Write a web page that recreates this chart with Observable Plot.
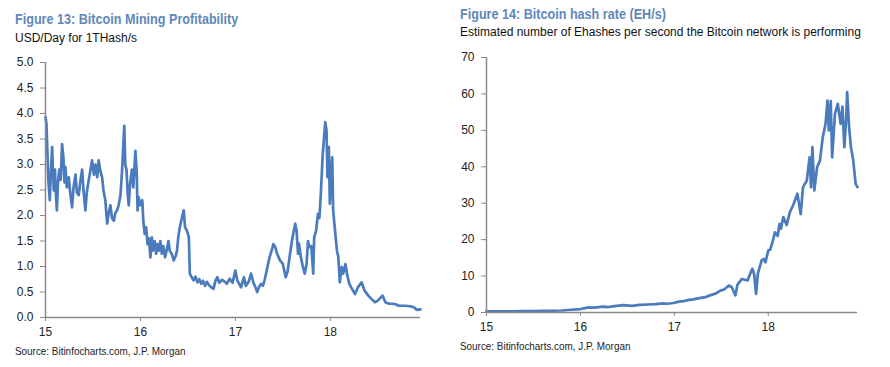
<!DOCTYPE html>
<html>
<head>
<meta charset="utf-8">
<script src="https://cdn.jsdelivr.net/npm/d3@7"></script>
<script src="https://cdn.jsdelivr.net/npm/@observablehq/plot@0.6"></script>
<style>
  html, body { margin: 0; padding: 0; background: #fff; }
  body { width: 890px; height: 367px; position: relative; overflow: hidden; font-family: "Liberation Sans", Arial, sans-serif; }
  .t { position: absolute; line-height: 1; white-space: nowrap; transform-origin: 0 0; }
  .title { font-size: 14px; font-weight: bold; color: #5f87b9; transform: scaleX(0.9); }
  .sub { font-size: 12px; color: #111; }
  .src { font-size: 11px; color: #222; transform: scaleX(0.9); }
  .chart { position: absolute; }
</style>
</head>
<body>
<div class="t title" style="left:15px; top:12px;">Figure 13: Bitcoin Mining Profitability</div>
<div class="t sub" style="left:15px; top:32px;">USD/Day for 1THash/s</div>
<div class="chart" id="left" style="left:0px; top:50px;"></div>
<div class="t src" style="left:15px; top:346px;">Source: Bitinfocharts.com, J.P. Morgan</div>

<div class="t title" style="left:460px; top:7px;">Figure 14: Bitcoin hash rate (EH/s)</div>
<div class="t sub" style="left:460px; top:26px;">Estimated number of Ehashes per second the Bitcoin network is performing</div>
<div class="chart" id="right" style="left:445px; top:45px;"></div>
<div class="t src" style="left:460px; top:341px;">Source: Bitinfocharts.com, J.P. Morgan</div>

<script>
// ---------- Data (years as '15 = 2015, decimal) ----------
const xTicks = [15, 16, 17, 18];
const xTickLabels = ["15", "16", "17", "18"];

// Figure 13: Bitcoin mining profitability, USD/Day for 1THash/s
const profitT = [15.00,15.01,15.02,15.03,15.045,15.055,15.07,15.08,15.088,15.10,15.11,15.12,15.13,15.145,15.16,15.175,15.19,15.20,15.21,15.225,15.245,15.26,15.28,15.295,15.316,15.33,15.35,15.365,15.386,15.40,15.42,15.435,15.456,15.47,15.49,15.51,15.526,15.545,15.56,15.58,15.596,15.61,15.63,15.65,15.665,15.684,15.70,15.72,15.735,15.754,15.77,15.79,15.807,15.83,15.84,15.853,15.865,15.877,15.89,15.91,15.925,15.947,15.96,15.97,15.98,16.00,16.02,16.03,16.045,16.06,16.075,16.09,16.105,16.12,16.13,16.15,16.165,16.18,16.195,16.21,16.225,16.24,16.26,16.28,16.295,16.31,16.33,16.35,16.37,16.385,16.40,16.415,16.43,16.456,16.47,16.49,16.50,16.51,16.52,16.54,16.56,16.58,16.60,16.62,16.64,16.66,16.68,16.70,16.72,16.74,16.77,16.79,16.81,16.83,16.86,16.89,16.91,16.94,16.97,17.00,17.02,17.04,17.06,17.09,17.11,17.14,17.165,17.19,17.21,17.23,17.25,17.27,17.29,17.31,17.33,17.36,17.38,17.40,17.42,17.44,17.47,17.50,17.53,17.55,17.58,17.60,17.63,17.645,17.66,17.67,17.69,17.71,17.73,17.75,17.765,17.78,17.80,17.82,17.83,17.85,17.87,17.885,17.90,17.92,17.947,17.96,17.97,17.985,17.995,18.02,18.03,18.05,18.07,18.085,18.10,18.12,18.135,18.16,18.175,18.20,18.22,18.26,18.29,18.33,18.36,18.40,18.43,18.47,18.50,18.55,18.58,18.62,18.65,18.69,18.72,18.79,18.84,18.88,18.91,18.95];
const profitV = [3.93,3.80,3.25,2.70,2.30,2.80,3.34,2.75,2.49,2.90,2.40,2.10,2.60,2.90,2.70,3.40,3.10,2.65,2.95,2.55,2.75,2.45,2.16,2.55,2.80,2.45,2.40,2.65,2.90,2.50,2.10,2.45,2.70,2.85,3.08,2.80,3.00,2.75,3.08,2.85,2.75,2.50,2.30,1.84,2.05,2.20,1.95,1.90,2.05,2.10,2.20,2.40,2.90,3.76,3.00,2.90,2.45,2.20,2.60,2.90,2.55,3.27,2.88,2.10,2.36,2.20,2.30,1.90,1.64,1.77,1.44,1.55,1.18,1.57,1.31,1.50,1.25,1.44,1.31,1.50,1.25,1.40,1.18,1.35,1.50,1.30,1.25,1.12,1.20,1.31,1.60,1.77,1.90,2.10,1.77,1.70,1.64,1.57,0.86,0.79,0.73,0.80,0.69,0.75,0.66,0.72,0.62,0.70,0.64,0.60,0.56,0.72,0.79,0.68,0.74,0.70,0.66,0.76,0.68,0.92,0.73,0.66,0.59,0.79,0.62,0.70,0.86,0.68,0.60,0.50,0.60,0.66,0.62,0.75,0.92,1.18,1.30,1.44,1.38,1.25,1.12,1.05,0.79,0.90,1.31,1.55,1.84,1.70,1.25,1.45,1.18,1.00,0.86,1.05,1.50,1.38,1.40,0.86,1.57,1.70,2.03,1.95,2.42,3.20,3.83,3.67,2.75,3.34,2.23,3.14,2.10,1.70,1.31,1.18,0.69,0.99,0.86,1.05,0.86,0.66,0.59,0.46,0.59,0.69,0.53,0.43,0.37,0.30,0.33,0.43,0.30,0.27,0.27,0.26,0.23,0.23,0.22,0.20,0.15,0.16];
const profitYTicks = [0, 0.5, 1, 1.5, 2, 2.5, 3, 3.5, 4, 4.5, 5];

// Figure 14: Bitcoin hash rate, EH/s
const hashT = [15.00,15.10,15.20,15.30,15.40,15.50,15.60,15.70,15.80,15.90,16.00,16.05,16.09,16.15,16.24,16.30,16.36,16.46,16.55,16.63,16.72,16.80,16.88,16.93,16.99,17.05,17.10,17.14,17.20,17.28,17.33,17.38,17.44,17.49,17.53,17.58,17.61,17.65,17.67,17.69,17.72,17.75,17.78,17.80,17.83,17.85,17.87,17.89,17.93,17.95,17.97,18.00,18.02,18.05,18.07,18.10,18.12,18.135,18.16,18.195,18.23,18.27,18.31,18.345,18.37,18.41,18.44,18.455,18.47,18.49,18.52,18.55,18.58,18.61,18.63,18.645,18.665,18.68,18.71,18.74,18.77,18.79,18.81,18.83,18.84,18.86,18.88,18.905,18.93,18.95];
const hashV = [0.30,0.32,0.33,0.35,0.38,0.40,0.43,0.48,0.55,0.75,0.95,1.2,1.4,1.35,1.6,1.5,1.75,2.0,1.8,2.1,2.2,2.3,2.5,2.4,2.6,3.0,3.1,3.4,3.6,4.0,4.2,4.7,5.2,6.0,6.3,7.4,7.0,4.7,7.5,8.3,9.2,9.0,8.8,10.2,12.0,10.5,5.1,10.8,14.3,14.7,13.8,17.0,17.2,19.8,22.0,21.0,24.3,23.0,26.2,24.0,27.5,29.8,32.6,27.0,34.4,36.2,42.6,34.4,45.4,33.5,39.9,41.7,48.1,51.8,58.2,50.0,58.0,42.6,54.5,57.3,51.8,56.5,45.4,53.6,60.5,51.0,45.4,41.7,35.3,34.4];
const hashYTicks = [0, 10, 20, 30, 40, 50, 60, 70];

// ---------- Drawing ----------
const lineColor = "#4a7bbd";
const axisColor = "#8a8a8a";
const textColor = "#222";
const font = {fontFamily: "'Liberation Sans', Arial, sans-serif", fontSize: "12px", background: "transparent", color: textColor};

function panel({T, V, yDomain, yTicks, yFormat, marginLeft, marginRight}) {
  const rows = T.map((t, i) => ({t, v: V[i]}));
  return Plot.plot({
    width: 445,
    height: 300,
    marginLeft,
    marginRight,
    marginTop: 12,
    marginBottom: 33,
    style: font,
    x: {domain: [15, 18.95], axis: null},
    y: {domain: yDomain, axis: null},
    marks: [
      Plot.axisY({ticks: yTicks, tickSize: 5, tickPadding: 7, tickFormat: yFormat, stroke: axisColor, fill: textColor, label: null}),
      Plot.axisX({ticks: xTicks, tickSize: 4, tickPadding: 6, tickFormat: (d) => xTickLabels[xTicks.indexOf(d)], stroke: axisColor, fill: textColor, label: null}),
      Plot.line(rows, {x: "t", y: "v", stroke: lineColor, strokeWidth: 2.7, strokeLinejoin: "round", strokeLinecap: "round"}),
      Plot.ruleX([15], {stroke: axisColor, strokeWidth: 1.5}),
      Plot.ruleY([yDomain[0]], {stroke: axisColor, strokeWidth: 1.5})
    ]
  });
}

document.getElementById("left").appendChild(panel({
  T: profitT, V: profitV, yDomain: [0, 5], yTicks: profitYTicks,
  yFormat: (d) => d.toFixed(1), marginLeft: 45, marginRight: 25
}));

document.getElementById("right").appendChild(panel({
  T: hashT, V: hashV, yDomain: [0, 70], yTicks: hashYTicks,
  yFormat: (d) => String(d), marginLeft: 41, marginRight: 33
}));
</script>
</body>
</html>
